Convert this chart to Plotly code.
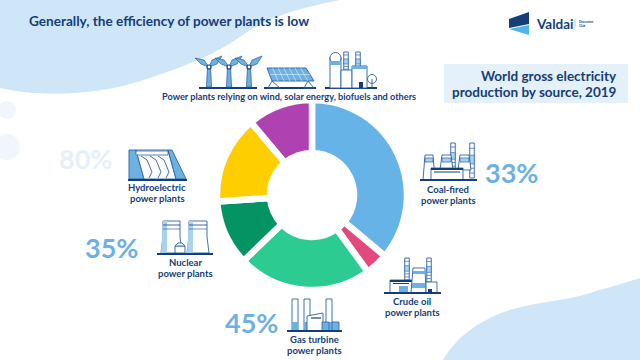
import plotly.graph_objects as go

sources = ["Coal-fired", "Crude oil", "Gas turbine", "Nuclear", "Hydroelectric", "Wind, solar, biofuels and others"]
shares = [36.1, 3.9, 22.8, 11.1, 15.0, 11.1]
slice_colors = ["#66B3E8", "#E2497C", "#2BCB92", "#049463", "#FFCE00", "#AF41B0"]
headline = "Generally, the efficiency of power plants is low"
panel_lines = ["World gross electricity", "production by source, 2019"]
plant_labels = [("Coal-fired", "power plants", 448, 189), ("Crude oil", "power plants", 412, 301),
                ("Gas turbine", "power plants", 314, 339), ("Nuclear", "power plants", 185, 262),
                ("Hydroelectric", "power plants", 157, 187)]
efficiency = [("33%", 511, 172, "#6DB1E2"), ("35%", 111, 247, "#6DB1E2"),
              ("45%", 251, 322, "#6DB1E2"), ("80%", 85, 158, "#E6F0F9")]

W, H = 640, 360
NAVY, BLUE, LINE = "#153D78", "#6DB1E2", "#2B62A5"
shapes = []

def pt(x, y):
    return f"{x/W:.5f},{1-y/H:.5f}"

def poly(points, fill=None, line=None, lw=1.0, closed=True):
    d = "M" + " L".join(pt(*p) for p in points) + (" Z" if closed else "")
    shapes.append(dict(type="path", xref="paper", yref="paper", path=d,
                       fillcolor=fill or "rgba(0,0,0,0)",
                       line=dict(color=line or "rgba(0,0,0,0)", width=lw if line else 0)))

def rect(x0, y0, x1, y1, fill=None, line=None, lw=1.0):
    poly([(x0, y0), (x1, y0), (x1, y1), (x0, y1)], fill, line, lw)

def seg(x0, y0, x1, y1, color=LINE, lw=1.0):
    poly([(x0, y0), (x1, y1)], None, color, lw, closed=False)

def circle(cx, cy, r, fill=None, line=None, lw=1.0):
    shapes.append(dict(type="circle", xref="paper", yref="paper",
                       x0=(cx-r)/W, x1=(cx+r)/W, y0=1-(cy+r)/H, y1=1-(cy-r)/H,
                       fillcolor=fill or "rgba(0,0,0,0)",
                       line=dict(color=line or "rgba(0,0,0,0)", width=lw if line else 0)))

def curve(d_pts, fill):
    d = f"M{pt(*d_pts[0])}"
    for c1, c2, e in d_pts[1]:
        d += f" C{pt(*c1)} {pt(*c2)} {pt(*e)}"
    for p in d_pts[2]:
        d += f" L{pt(*p)}"
    d += " Z"
    shapes.append(dict(type="path", xref="paper", yref="paper", path=d, fillcolor=fill, line=dict(width=0)))

def stack(x, top, bottom, w=4.5):
    rect(x-w/2, top, x+w/2, bottom, "white", LINE, 0.9)
    rect(x-w/2, top+(bottom-top)*0.35, x+w/2, top+(bottom-top)*0.6, "#A9D2F0", LINE, 0.6)
    for k in (0.15, 0.72, 0.86):
        seg(x-w/2, top+(bottom-top)*k, x+w/2, top+(bottom-top)*k, LINE, 0.7)

def tower(x0, x1, top, bottom):
    poly([(x0+2, top), (x1-2, top), (x1, bottom), (x0, bottom)], "white", LINE, 0.9)
    poly([(x0+2, top+3), (x1-2, top+3), (x1-2, top+7), (x0+2, top+7)], "#A9D2F0", LINE, 0.7)

def base(x0, x1, y):
    rect(x0, y-0.9, x1, y+0.9, NAVY)

def turbine(x, hub, bottom):
    poly([(x-1.5, hub), (x+1.5, hub), (x+2.5, bottom), (x-2.5, bottom)], BLUE, LINE, 0.8)
    poly([(x, hub), (x-5, hub-7), (x-14, hub-9), (x-8, hub-3)], BLUE, LINE, 0.7)
    poly([(x, hub), (x+3, hub-7), (x+13, hub-11), (x+8, hub-3)], BLUE, LINE, 0.7)
    circle(x, hub, 2, "white", NAVY, 1.2)

# background
curve([(0, 0), [((0, 0), (0, 0), (340, 0)),
                ((300, 8), (268, 16), (240, 37)),
                ((210, 58), (170, 72), (130, 84)),
                ((90, 95), (40, 97), (0, 88))], []], "#CFE5F8")
curve([(443, 360), [((455, 340), (470, 328), (490, 318)),
                    ((520, 302), (560, 303), (590, 293)),
                    ((610, 287), (625, 283), (640, 278))], [(640, 360)]], "#CFE5F8")
circle(7, 110, 9, "#F0F6FC")
circle(7, 147, 13, "#F0F6FC")
rect(444, 64, 628, 103, "#E4F0FA")

# logo
poly([(509, 19), (529, 12), (529, 24), (509, 28)], NAVY)
poly([(509, 29), (529, 25), (529, 35)], "#4FB3EC")
seg(575, 19, 575, 28, "#8FA6C6", 0.6)

# wind turbines, solar panel, bio plant
base(199, 257, 88)
for xh in (209, 229, 249):
    turbine(xh, 67, 87)
base(264, 316, 88)
poly([(267, 68), (306, 68), (314, 81), (272, 81)], BLUE, LINE, 0.9)
for k in range(1, 7):
    seg(267+k*5.6, 68, 272+k*6, 81, "white", 0.5)
seg(270, 74.5, 310, 74.5, "white", 0.5)
poly([(272, 81), (268, 88), (280, 88), (272, 81)], None, LINE, 0.9, closed=False)
poly([(308, 81), (304, 88), (314, 88), (308, 81)], None, LINE, 0.9, closed=False)
base(325, 377, 88)
rect(330, 57, 341, 88, "white", LINE, 0.9)
circle(335.5, 58, 5.5, "white", LINE, 0.9)
rect(330, 61, 341, 65, BLUE)
stack(346, 52, 72)
stack(358, 52, 72)
rect(341, 70, 352, 88, "white", LINE, 0.9)
rect(352, 66, 367, 88, "white", LINE, 0.9)
rect(352, 66, 367, 69, BLUE)
rect(359, 82, 363, 88, NAVY)
circle(372, 79, 4.5, "white", LINE, 0.9)
seg(372, 79, 372, 87, LINE, 0.9)

# coal
stack(453, 143, 170); stack(472, 143, 178)
tower(423, 435, 155, 180); tower(440, 453, 155, 170); tower(458, 471, 155, 170)
rect(431, 168, 463, 180, "white", LINE, 0.9)
rect(431, 168, 463, 170, NAVY)
seg(434, 172, 460, 172, NAVY, 1.0)
base(420, 477, 180)

# crude oil
stack(407, 258, 280); stack(429, 258, 282)
rect(390, 280, 412, 293, "white", LINE, 0.9)
rect(390, 280, 412, 282, NAVY)
seg(393, 283.5, 409, 283.5, NAVY, 1.0)
rect(399, 286, 408, 293, BLUE)
poly([(413, 268), (425, 268), (426, 293), (411, 293)], "white", LINE, 0.9)
rect(413, 271, 425, 274, BLUE)
rect(412, 283, 426, 288, BLUE)
rect(426, 282, 437, 293, "white", LINE, 0.9)
rect(428, 289, 432, 293, NAVY)
base(384, 441, 293)

# gas turbine
for xs in (295, 307, 329):
    poly([(xs-3, 299), (xs+3, 299), (xs+3, 331), (xs-3, 331)], "white", LINE, 0.9)
    rect(xs-3, 322, xs+3, 331, BLUE)
poly([(307, 316), (323, 313), (323, 331), (307, 331)], "white", LINE, 0.9)
seg(311, 318, 321, 318, NAVY, 1.2)
rect(322, 322, 329, 331, BLUE, LINE, 0.8)
rect(332, 322, 339, 331, BLUE, LINE, 0.8)
base(287, 342, 331)

# nuclear
for x0, x1 in ((162, 181), (188, 208)):
    poly([(x0+1, 221), (x1-1, 221), (x1-1, 237), (x1+1, 253), (x0-1, 253), (x0+1, 237)], "white", LINE, 0.9)
    poly([(x0+1, 221), (x0+5, 221), (x0+5, 253), (x0-1, 253)], "#A9D2F0")
    seg(x0+1, 225, x1-1, 225, NAVY, 0.8)
    seg(x0+1, 229, x1-1, 229, LINE, 0.7)
rect(175, 246, 185, 253, "white", LINE, 0.9)
poly([(175, 246), (178, 243), (182, 243), (185, 246)], "white", LINE, 0.9)
base(157, 213, 254)

# hydro
poly([(129, 150), (136, 150), (144, 179), (129, 179)], BLUE, LINE, 0.9)
poly([(136, 150), (168, 150), (176, 179), (144, 179)], "white", LINE, 0.9)
poly([(168, 150), (172, 150), (186, 179), (176, 179)], BLUE, LINE, 0.9)
rect(136, 151, 168, 155, "white", LINE, 0.8)
for xs in (141, 150, 158):
    poly([(xs, 156), (xs+6, 160), (xs+11, 172), (xs+8, 178)], None, LINE, 0.9, closed=False)
base(128, 187, 180)

R = 95
cx, cy = 312, 195
pie = go.Pie(labels=sources, values=shares, sort=False, direction="clockwise", rotation=0,
             hole=42/95, textinfo="none", showlegend=False, hoverinfo="label+percent",
             marker=dict(colors=slice_colors, line=dict(color="white", width=6.5)),
             domain=dict(x=[(cx-R)/W, (cx+R)/W], y=[1-(cy+R)/H, 1-(cy-R)/H]))

ann = []
def txt(s, x, y, size, color=NAVY, anchor="center", family="Lato"):
    ann.append(dict(text=f"<b>{s}</b>", x=x/W, y=1-y/H, xref="paper", yref="paper", showarrow=False,
                    borderpad=0, xanchor=anchor, yanchor="middle",
                    font=dict(family=family, size=size, color=color)))

txt(headline, 28, 21, 13.6, anchor="left")
for i, s in enumerate(panel_lines):
    txt(s, 618, 76+16*i, 13.5, anchor="right")
txt("Power plants relying on wind, solar energy, biofuels and others", 289, 97, 9.2)
for a, b, x, y in plant_labels:
    txt(a, x, y, 9.5)
    txt(b, x, y+11, 9.5)
for s, x, y, c in efficiency:
    txt(s, x, y, 27, c)
txt("Valdai", 555, 24, 13.5)
txt("Discussion", 578, 22, 3, anchor="left")
txt("Club", 578, 26, 3, anchor="left")

fig = go.Figure(pie)
fig.update_layout(width=W, height=H, margin=dict(l=0, r=0, t=0, b=0), paper_bgcolor="white",
                  shapes=shapes, annotations=ann)
fig.write_html("out.html", config=dict(displayModeBar=False),
               post_script="document.body.style.margin='0';document.body.style.overflow='hidden';")
